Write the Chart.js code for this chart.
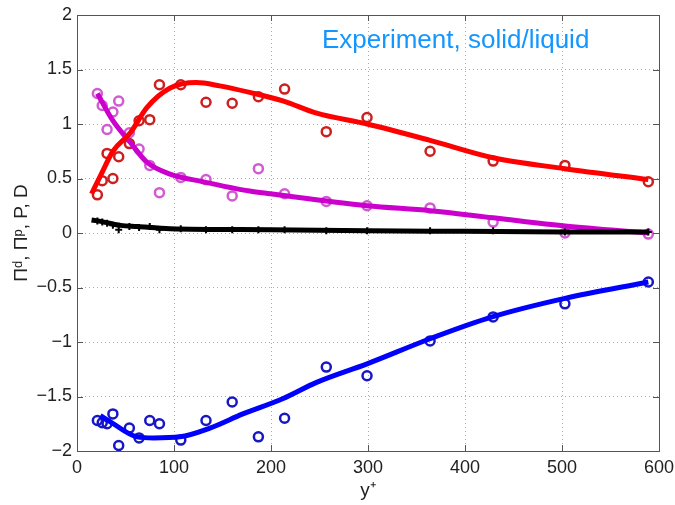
<!DOCTYPE html>
<html>
<head>
<meta charset="utf-8">
<script src="https://cdn.jsdelivr.net/npm/chart.js@4/dist/chart.umd.min.js"></script>
<style>
  body { margin: 0; background: #fff; }
  #wrap { position: relative; width: 675px; height: 505px; }
  #label {
    position: absolute; left: 322px; top: 24px;
    font: 26px "Liberation Sans", Arial, sans-serif;
    color: #1496ff; white-space: nowrap;
  }
</style>
</head>
<body>
<div id="wrap">
  <canvas id="c" width="675" height="505"></canvas>
  <div id="label">Experiment, solid/liquid</div>
</div>
<script>
// ── datos medidos (círculos / cruces) ─────────────────────────
const Y_PLUS = [21, 26, 31, 37, 43, 54, 64, 75, 85, 107, 133, 160, 187, 214, 257, 299, 364, 429, 503, 589]
const RED_PTS = [0.35, 0.48, 0.73, 0.50, 0.70, 0.82, 1.03, 1.04, 1.36, 1.36, 1.20, 1.19, 1.25, 1.32, 0.93, 1.06, 0.75, 0.66, 0.62, 0.47]
const MAG_PTS = [1.28, 1.17, 0.95, 1.11, 1.21, 0.92, 0.77, 0.62, 0.37, 0.51, 0.49, 0.34, 0.59, 0.36, 0.29, 0.25, 0.23, 0.10, 0.00, -0.01]
const BLUE_PTS = [-1.72, -1.74, -1.75, -1.66, -1.95, -1.79, -1.88, -1.72, -1.75, -1.90, -1.72, -1.55, -1.87, -1.70, -1.23, -1.31, -0.99, -0.77, -0.65, -0.45]
const BLACK_PTS = [0.11, 0.10, 0.09, 0.07, 0.03, 0.06, 0.05, 0.06, 0.03, 0.04, 0.03, 0.03, 0.03, 0.03, 0.02, 0.02, 0.02, 0.02, 0.01, 0.01]

// ── curvas ajustadas ──────────────────────────────────────────
const RED_FIT_X = [15, 25, 37, 55, 72, 96, 123, 147, 178, 213, 247, 299, 364, 429, 503, 589]
const RED_FIT_Y = [0.36, 0.54, 0.75, 0.92, 1.15, 1.33, 1.38, 1.35, 1.29, 1.21, 1.10, 1.00, 0.85, 0.69, 0.59, 0.49]
const MAG_FIT_X = [21, 37, 55, 72, 96, 130, 178, 199, 299, 364, 429, 503, 589]
const MAG_FIT_Y = [1.28, 1.03, 0.83, 0.65, 0.54, 0.47, 0.385, 0.36, 0.25, 0.205, 0.14, 0.065, 0.00]
const BLUE_FIT_X = [24, 34, 62, 79, 106, 137, 171, 212, 247, 299, 364, 428, 503, 589]
const BLUE_FIT_Y = [-1.675, -1.73, -1.87, -1.88, -1.87, -1.79, -1.66, -1.52, -1.37, -1.20, -0.97, -0.77, -0.60, -0.45]
const BLACK_FIT_X = [15, 28, 45, 62, 96, 200, 300, 400, 500, 589]
const BLACK_FIT_Y = [0.12, 0.10, 0.07, 0.06, 0.04, 0.03, 0.02, 0.015, 0.01, 0.01]

const X_TICKS = [0, 100, 200, 300, 400, 500, 600]
const Y_TICKS = [-2, -1.5, -1, -0.5, 0, 0.5, 1, 1.5, 2]

const pts = (xs, ys) => xs.map((x, i) => ({ x, y: ys[i] }))

function fitLine(xs, ys, color, order) {
  return {
    data: pts(xs, ys), showLine: true, borderColor: color, borderWidth: 5,
    pointRadius: 0, cubicInterpolationMode: "monotone", order
  }
}
function circles(ys, color) {
  return {
    data: pts(Y_PLUS, ys), showLine: false, pointStyle: "circle",
    pointRadius: 4.5, borderWidth: 2.5, borderColor: color,
    backgroundColor: "rgba(0,0,0,0)", order: 5
  }
}

// marco completo + marcas de escala hacia dentro (estilo MATLAB)
const frame = {
  id: "frame",
  afterDatasetsDraw(chart) {
    const { ctx, chartArea: a, scales: { x, y } } = chart
    ctx.save()
    ctx.strokeStyle = "#555"
    ctx.lineWidth = 1
    ctx.strokeRect(a.left + 0.5, a.top + 0.5, a.right - a.left, a.bottom - a.top)
    ctx.beginPath()
    X_TICKS.forEach(v => {
      const px = Math.round(x.getPixelForValue(v)) + 0.5
      ctx.moveTo(px, a.bottom); ctx.lineTo(px, a.bottom - 6)
      ctx.moveTo(px, a.top); ctx.lineTo(px, a.top + 6)
    })
    Y_TICKS.forEach(v => {
      const py = Math.round(y.getPixelForValue(v)) + 0.5
      ctx.moveTo(a.left, py); ctx.lineTo(a.left + 6, py)
      ctx.moveTo(a.right, py); ctx.lineTo(a.right - 6, py)
    })
    ctx.stroke()
    ctx.restore()
  }
}

const tickFont = { family: "'Liberation Sans', Arial, sans-serif", size: 18 }
const fmt = v => (v < 0 ? "\u2212" + Math.abs(v) : String(v))

new Chart(document.getElementById("c"), {
  type: "scatter",
  data: {
    datasets: [
      fitLine(BLACK_FIT_X, BLACK_FIT_Y, "#000", 0),
      {
        data: pts(Y_PLUS, BLACK_PTS), showLine: false, pointStyle: "cross",
        pointRadius: 3.5, borderWidth: 2, borderColor: "#000", order: 1
      },
      fitLine(RED_FIT_X, RED_FIT_Y, "#ff0000", 2),
      fitLine(MAG_FIT_X, MAG_FIT_Y, "#cc00cc", 2),
      fitLine(BLUE_FIT_X, BLUE_FIT_Y, "#0000ff", 2),
      circles(RED_PTS, "#cc1f1f"),
      circles(MAG_PTS, "#d25ad2"),
      circles(BLUE_PTS, "#1717c4")
    ]
  },
  options: {
    responsive: false,
    animation: false,
    layout: { padding: { top: 15, right: 16, left: 0, bottom: 0 } },
    plugins: { legend: { display: false }, tooltip: { enabled: false } },
    scales: {
      x: {
        type: "linear", min: 0, max: 600,
        afterBuildTicks: s => { s.ticks = X_TICKS.map(value => ({ value })) },
        afterFit: s => { s.height = 54; s.paddingLeft = 0; s.paddingRight = 0 },
        grid: { color: "#aaa", drawTicks: false },
        border: { display: false, dash: [1, 3] },
        ticks: { color: "#222", font: tickFont, padding: 6, maxRotation: 0, callback: fmt },
        title: {
          display: true, text: "y\u207A", color: "#222",
          font: { family: "'Liberation Sans', Arial, sans-serif", size: 19 },
          padding: { top: 0, bottom: 3 }
        }
      },
      y: {
        type: "linear", min: -2, max: 2,
        afterBuildTicks: s => { s.ticks = Y_TICKS.map(value => ({ value })) },
        afterFit: s => { s.width = 77; s.paddingTop = 0; s.paddingBottom = 0 },
        grid: { color: "#aaa", drawTicks: false },
        border: { display: false, dash: [1, 3] },
        ticks: { color: "#222", font: tickFont, padding: 5, callback: fmt },
        title: {
          display: true, text: "\u03A0\u1D48, \u03A0\u1D56, P, D", color: "#222",
          font: { family: "'Liberation Sans', Arial, sans-serif", size: 19 },
          padding: { top: 10, bottom: 0 }
        }
      }
    }
  },
  plugins: [frame]
})
</script>
</body>
</html>
